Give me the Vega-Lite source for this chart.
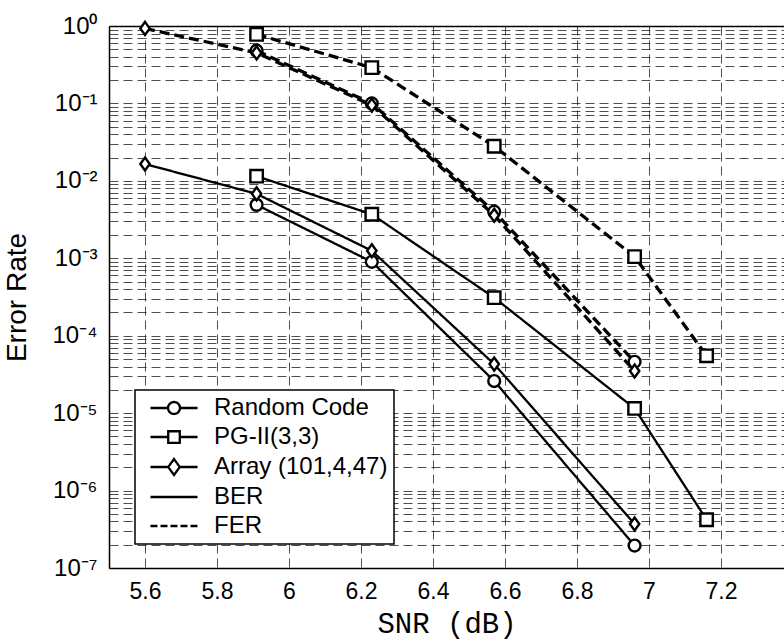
{
  "$schema": "https://vega.github.io/schema/vega-lite/v6.json",
  "width": 675,
  "height": 542,
  "autosize": {"type": "none"},
  "padding": {"left": 109, "top": 26, "right": 0, "bottom": 76},
  "background": "white",
  "config": {
    "view": {"stroke": null},
    "font": "Liberation Sans",
    "legend": {
      "orient": "none",
      "legendX": 26,
      "legendY": 364,
      "strokeColor": "black",
      "strokeWidth": 1.5,
      "fillColor": "white",
      "padding": 6,
      "rowPadding": 5,
      "labelFont": "Liberation Sans",
      "labelFontSize": 24,
      "labelColor": "black",
      "labelOffset": 28,
      "labelLimit": 400,
      "symbolSize": 441,
      "symbolOffset": 21,
      "symbolStrokeWidth": 2.3,
      "symbolStrokeColor": "black",
      "symbolFillColor": "transparent",
      "symbolOpacity": 1
    }
  },
  "data": {
    "values": [
      {"snr": 5.91, "rate": 0.0049, "code": "Random Code", "metric": "BER"},
      {"snr": 6.23, "rate": 0.0009, "code": "Random Code", "metric": "BER"},
      {"snr": 6.57, "rate": 0.000026, "code": "Random Code", "metric": "BER"},
      {"snr": 6.96, "rate": 0.000000195, "code": "Random Code", "metric": "BER"},
      {"snr": 5.6, "rate": 0.0165, "code": "Array (101,4,47)", "metric": "BER"},
      {"snr": 5.91, "rate": 0.0068, "code": "Array (101,4,47)", "metric": "BER"},
      {"snr": 6.23, "rate": 0.00125, "code": "Array (101,4,47)", "metric": "BER"},
      {"snr": 6.57, "rate": 0.000043, "code": "Array (101,4,47)", "metric": "BER"},
      {"snr": 6.96, "rate": 0.00000037, "code": "Array (101,4,47)", "metric": "BER"},
      {"snr": 5.91, "rate": 0.0115, "code": "PG-II(3,3)", "metric": "BER"},
      {"snr": 6.23, "rate": 0.0037, "code": "PG-II(3,3)", "metric": "BER"},
      {"snr": 6.57, "rate": 0.00031, "code": "PG-II(3,3)", "metric": "BER"},
      {"snr": 6.96, "rate": 0.0000115, "code": "PG-II(3,3)", "metric": "BER"},
      {"snr": 7.16, "rate": 0.00000042, "code": "PG-II(3,3)", "metric": "BER"},
      {"snr": 5.91, "rate": 0.48, "code": "Random Code", "metric": "FER"},
      {"snr": 6.23, "rate": 0.1, "code": "Random Code", "metric": "FER"},
      {"snr": 6.57, "rate": 0.004, "code": "Random Code", "metric": "FER"},
      {"snr": 6.96, "rate": 0.000046, "code": "Random Code", "metric": "FER"},
      {"snr": 5.6, "rate": 0.93, "code": "Array (101,4,47)", "metric": "FER"},
      {"snr": 5.91, "rate": 0.45, "code": "Array (101,4,47)", "metric": "FER"},
      {"snr": 6.23, "rate": 0.095, "code": "Array (101,4,47)", "metric": "FER"},
      {"snr": 6.57, "rate": 0.0036, "code": "Array (101,4,47)", "metric": "FER"},
      {"snr": 6.96, "rate": 0.000035, "code": "Array (101,4,47)", "metric": "FER"},
      {"snr": 5.91, "rate": 0.78, "code": "PG-II(3,3)", "metric": "FER"},
      {"snr": 6.23, "rate": 0.29, "code": "PG-II(3,3)", "metric": "FER"},
      {"snr": 6.57, "rate": 0.028, "code": "PG-II(3,3)", "metric": "FER"},
      {"snr": 6.96, "rate": 0.00105, "code": "PG-II(3,3)", "metric": "FER"},
      {"snr": 7.16, "rate": 0.000055, "code": "PG-II(3,3)", "metric": "FER"}
    ]
  },
  "resolve": {
    "scale": {"shape": "independent", "strokeDash": "independent", "size": "independent"},
    "axis": {"x": "independent"}
  },
  "layer": [
    {
      "mark": {"type": "line", "color": "black"},
      "encoding": {
        "x": {
          "field": "snr", "type": "quantitative",
          "scale": {"domain": [5.5, 7.375], "nice": false, "zero": false},
          "axis": {
            "title": "SNR (dB)",
            "values": [5.6, 5.8, 6, 6.2, 6.4, 6.6, 6.8, 7, 7.2],
            "format": "~f",
            "labelFont": "Liberation Sans", "labelFontSize": 23, "labelColor": "black", "labelPadding": 12,
            "ticks": false,
            "grid": true, "gridDash": [9, 5], "gridColor": "#222", "gridOpacity": 0.8, "gridWidth": 1,
            "domain": true, "domainColor": "black", "domainWidth": 1.5,
            "titleFont": "Liberation Mono", "titleFontSize": 29, "titleFontWeight": "normal", "titleColor": "black", "titlePadding": 6
          }
        },
        "y": {
          "field": "rate", "type": "quantitative",
          "scale": {"type": "log", "domain": [1e-7, 1], "nice": false},
          "axis": {
            "title": "Error Rate",
            "values": [
              1e-7, 2e-7, 3e-7, 4e-7, 5e-7, 6e-7, 7e-7, 8e-7, 9e-7,
              1e-6, 2e-6, 3e-6, 4e-6, 5e-6, 6e-6, 7e-6, 8e-6, 9e-6,
              1e-5, 2e-5, 3e-5, 4e-5, 5e-5, 6e-5, 7e-5, 8e-5, 9e-5,
              1e-4, 2e-4, 3e-4, 4e-4, 5e-4, 6e-4, 7e-4, 8e-4, 9e-4,
              1e-3, 2e-3, 3e-3, 4e-3, 5e-3, 6e-3, 7e-3, 8e-3, 9e-3,
              1e-2, 2e-2, 3e-2, 4e-2, 5e-2, 6e-2, 7e-2, 8e-2, 9e-2,
              1e-1, 2e-1, 3e-1, 4e-1, 5e-1, 6e-1, 7e-1, 8e-1, 9e-1,
              1
            ],
            "labelExpr": "abs(log(datum.value)/LN10 - round(log(datum.value)/LN10)) < 0.001 ? '10' + ['⁰','⁻¹','⁻²','⁻³','⁻⁴','⁻⁵','⁻⁶','⁻⁷'][-round(log(datum.value)/LN10)] : ''",
            "labelOverlap": false,
            "labelFont": "Liberation Sans", "labelFontSize": 24, "labelColor": "black", "labelPadding": 12,
            "ticks": false,
            "grid": true, "gridDash": [9, 5], "gridColor": "#222", "gridOpacity": 0.8, "gridWidth": 1,
            "domain": true, "domainColor": "black", "domainWidth": 1.5,
            "titleFont": "Liberation Sans", "titleFontSize": 28, "titleFontWeight": "normal", "titleColor": "black", "titlePadding": 20
          }
        },
        "detail": {"field": "code"},
        "strokeDash": {
          "field": "metric", "type": "nominal",
          "scale": {"domain": ["BER", "FER"], "range": [[1, 0], [10, 5]]},
          "legend": null
        },
        "strokeWidth": {
          "field": "metric", "type": "nominal",
          "scale": {"domain": ["BER", "FER"], "range": [2.3, 3.3]},
          "legend": null
        }
      }
    },
    {
      "mark": {"type": "point", "fill": "white", "stroke": "black", "strokeWidth": 2.4, "opacity": 1},
      "encoding": {
        "x": {
          "field": "snr", "type": "quantitative",
          "axis": {"orient": "top", "title": null, "labels": false, "ticks": false, "grid": false, "domain": true, "domainColor": "black", "domainWidth": 1.5}
        },
        "y": {"field": "rate", "type": "quantitative"},
        "shape": {
          "field": "code", "type": "nominal",
          "scale": {
            "domain": ["Random Code", "PG-II(3,3)", "Array (101,4,47)"],
            "range": ["circle", "square", "M0,-1L0.72,0L0,1L-0.72,0Z"]
          },
          "legend": null
        },
        "size": {
          "field": "code", "type": "nominal",
          "scale": {"domain": ["Random Code", "PG-II(3,3)", "Array (101,4,47)"], "range": [140, 170, 230]},
          "legend": null
        }
      }
    },
    {
      "transform": [{"filter": "false"}],
      "mark": {"type": "point", "color": "black", "filled": false, "strokeWidth": 2.3, "opacity": 1},
      "encoding": {
        "shape": {
          "field": "code", "type": "nominal",
          "scale": {
            "domain": ["Random Code", "PG-II(3,3)", "Array (101,4,47)", "BER", "FER"],
            "range": [
              "M-2.24,0H-0.57M0.57,0H2.24M-0.57,0A0.57,0.57 0 1,0 0.57,0A0.57,0.57 0 1,0 -0.57,0Z",
              "M-2.24,0H-0.55M0.55,0H2.24M-0.55,-0.55H0.55V0.55H-0.55Z",
              "M-2.24,0H-0.55M0.55,0H2.24M-0.55,0L0,-0.76L0.55,0L0,0.76Z",
              "M-2.24,0H2.24",
              "M-2.24,0H2.24"
            ]
          },
          "legend": {"title": null}
        },
        "strokeDash": {
          "field": "code", "type": "nominal",
          "scale": {
            "domain": ["Random Code", "PG-II(3,3)", "Array (101,4,47)", "BER", "FER"],
            "range": [[1, 0], [1, 0], [1, 0], [1, 0], [7, 3]]
          },
          "legend": {"title": null}
        }
      }
    }
  ]
}
